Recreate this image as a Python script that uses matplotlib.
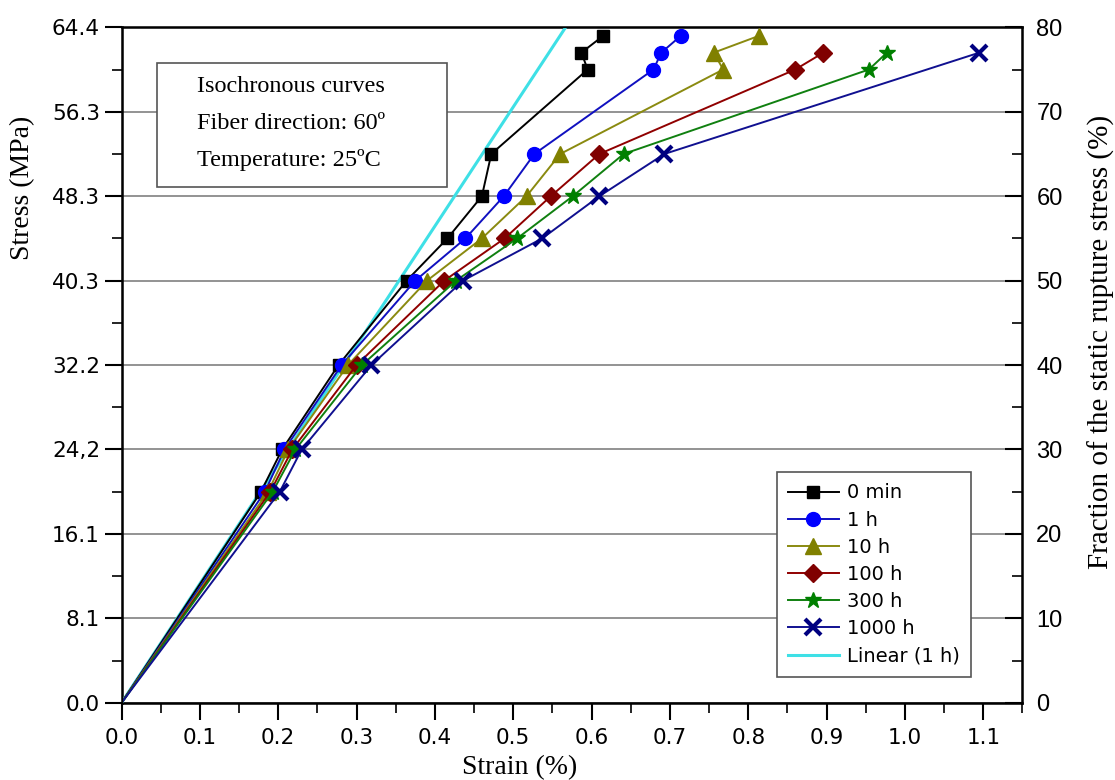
import matplotlib.pyplot as plt
from matplotlib.patches import Rectangle

# stress levels as % of static rupture stress
levels = [0, 25, 30, 40, 50, 55, 60, 65, 75, 77, 79]

strain_0min = [0, 0.178, 0.205, 0.277, 0.364, 0.416, 0.460, 0.472, 0.595, 0.587, 0.615]
strain_1h = [0, 0.183, 0.208, 0.281, 0.375, 0.439, 0.488, 0.527, 0.679, 0.689, 0.714]
strain_10h = [0, 0.187, 0.213, 0.289, 0.390, 0.460, 0.517, 0.560, 0.768, 0.756, 0.814]
levels_100h = [0, 25, 30, 40, 50, 55, 60, 65, 75, 77]
strain_100h = [0, 0.190, 0.218, 0.300, 0.412, 0.489, 0.548, 0.610, 0.860, 0.896]
levels_300h = [0, 25, 30, 40, 50, 55, 60, 65, 75, 77]
strain_300h = [0, 0.193, 0.222, 0.307, 0.427, 0.505, 0.576, 0.641, 0.954, 0.977]
levels_1000h = [0, 25, 30, 40, 50, 55, 60, 65, 77]
strain_1000h = [0, 0.202, 0.230, 0.319, 0.436, 0.537, 0.610, 0.693, 1.095]

# linear fit of the 1 h curve
linear_x = [0, 0.62]
linear_y = [0, 87.5]

stress_ticks = [0, 10, 20, 30, 40, 50, 60, 70, 80]
stress_labels = ["0.0", "8.1", "16.1", "24,2", "32.2", "40.3", "48.3", "56.3", "64.4"]
strain_labels = ["0.0", "0.1", "0.2", "0.3", "0.4", "0.5", "0.6", "0.7", "0.8", "0.9", "1.0", "1.1"]

fig = plt.figure(figsize=(11.15, 7.8), dpi=100)
ax = fig.add_axes([0.109, 0.099, 0.808, 0.866])

ax.plot(linear_x, linear_y, '-', color="#3ee0e6", lw=2.2, label="Linear (1 h)", zorder=3)
series = [
    (strain_0min, levels, 's', "black", "black", "0 min"),
    (strain_1h, levels, 'o', "#0000ff", "#1010c0", "1 h"),
    (strain_10h, levels, '^', "#808000", "#8a8a10", "10 h"),
    (strain_100h, levels_100h, 'D', "#800000", "#900000", "100 h"),
    (strain_300h, levels_300h, '*', "#008000", "#108010", "300 h"),
    (strain_1000h, levels_1000h, 'x', "#000080", "#101090", "1000 h"),
]
handles = []
sizes = {'s': 9, 'o': 10, '^': 11, 'D': 9, '*': 12, 'x': 11}
for xs, ys, m, mc, lc, lab in series:
    l, = ax.plot(xs, ys, '-', marker=m, color=lc, mfc=mc, mec=mc, ms=sizes[m],
                 mew=3 if m == 'x' else 1, lw=1.4, markevery=slice(1, None),
                 label=lab, zorder=4)
    handles.append(l)
handles.append(ax.lines[0])

tick_font = dict(family="DejaVu Sans", size=15.5)

ax.set_xlim(0, 1.15)
ax.set_ylim(0, 80)
ax.set_xticks([i / 10 for i in range(12)])
ax.set_xticklabels(strain_labels, fontdict=tick_font)
ax.set_xticks([0.05 + i / 10 for i in range(12)], minor=True)
ax.set_yticks(stress_ticks)
ax.set_yticklabels(stress_labels, fontdict=tick_font)
ax.set_yticks([5 + 10 * i for i in range(8)], minor=True)
ax.tick_params(axis='both', which='major', length=12, width=1.5, direction='out')
ax.tick_params(axis='x', which='major', pad=6)
ax.tick_params(axis='both', which='minor', length=7, width=1.2, direction='out')
ax.tick_params(top=False, which='both')
for s in ax.spines.values():
    s.set_linewidth(1.8)
ax.grid(axis='y', which='major', color="#808080", lw=1.2)

ax2 = ax.twinx()
ax2.set_ylim(0, 80)
ax2.set_yticks(stress_ticks)
ax2.set_yticklabels([str(t) for t in stress_ticks],
                    fontdict=dict(family=["Liberation Sans Narrow", "Liberation Sans"], size=17))
ax2.set_yticks([5 + 10 * i for i in range(8)], minor=True)
ax2.tick_params(axis='y', which='major', direction='in', length=12, width=1.5, pad=10)
ax2.tick_params(axis='y', which='minor', direction='in', length=7, width=1.2)
ax2.set_ylabel("Fraction of the static rupture stress (%)", family="Liberation Serif",
               fontsize=21)
ax2.yaxis.set_label_coords(1.072, 0.534)

ax.set_xlabel("Strain (%)", family="Liberation Serif", fontsize=20)
ax.xaxis.set_label_coords(0.442, -0.077)
ax.set_ylabel("Stress (MPa)", family="Liberation Serif", fontsize=20)
ax.yaxis.set_label_coords(-0.096, 0.763)

# info box
ax.add_patch(Rectangle((0.039, 0.763), 0.322, 0.184, transform=ax.transAxes,
                       fill=True, fc="white", ec="#555555", lw=1.2, zorder=5))
ax.text(0.084, 0.912, "Isochronous curves", transform=ax.transAxes, family="Liberation Serif",
        fontsize=17.5, va='center', zorder=6)
ax.text(0.084, 0.857, "Fiber direction: 60º", transform=ax.transAxes, family="Liberation Serif",
        fontsize=17.5, va='center', zorder=6)
ax.text(0.084, 0.804, "Temperature: 25ºC", transform=ax.transAxes, family="Liberation Serif",
        fontsize=17.5, va='center', zorder=6)

leg = ax.legend(handles=handles, loc='lower left', bbox_to_anchor=(0.727, 0.038),
                prop=dict(family="DejaVu Sans", size=14), frameon=True, fancybox=False,
                framealpha=1, edgecolor="#555555", handlelength=2.6, labelspacing=0.42,
                borderpad=0.6, handletextpad=0.4, borderaxespad=0)
leg.get_frame().set_linewidth(1.2)
leg.set_zorder(10)

fig.savefig("out.png", dpi=100)
